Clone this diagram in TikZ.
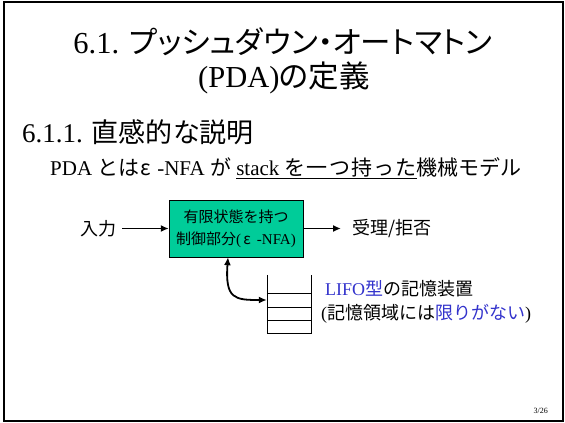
\documentclass[tikz,border=0pt]{standalone}
\usepackage{fontspec}
\setmainfont{Liberation Serif}
\newfontfamily\jp{Noto Sans CJK JP}[RawFeature=+palt]
\newfontfamily\jpw{Noto Sans CJK JP}
\newfontfamily\jpl{Noto Sans CJK JP}[LetterSpace=6]
\usepackage{xcolor}
\usetikzlibrary{arrows.meta}
\definecolor{boxgreen}{RGB}{0,204,153}
\definecolor{lifoblue}{RGB}{51,51,204}

\begin{document}
\begin{tikzpicture}[x = 1pt, y = -1pt,
    txt/.style = {inner sep = 0pt},
    flow/.style = {-{Latex[length = 8pt, width = 7pt]}, line width = 1.8pt}]
    \useasboundingbox (0, 0) rectangle (565, 423);
    \draw [line width = 2pt] (4, 2) rectangle (563, 421);
    % title
    \node (title1) [txt, anchor = base] at (283, 53) {\fontsize{30.5}{31}\selectfont 6.1. {\jp プッシュダウン・オートマトン}};
    \node (title2) [txt, anchor = base] at (284, 87) {\fontsize{30.5}{31}\selectfont (PDA){\jp の定義}};
    \node (sub) [txt, anchor = base west] at (22, 142) {\fontsize{27}{27}\selectfont 6.1.1. {\jp 直感的な説明}};
    \node (lead) [txt, anchor = base west] at (50, 175) {\fontsize{21}{21}\selectfont PDA {\jpw とは}\makebox[0.6em]{\jpw ε} -NFA {\jpw が} \underline{stack {\jpl を一つ持った}}{\jpw 機械モデル}};
    % control part
    \node (ctrl) [draw, fill = boxgreen, minimum width = 134pt, minimum height = 57pt, align = center,
        font = \fontsize{15}{22}\selectfont] at (236, 228.5) {{\jpw 有限状態を持つ}\\{\jpw 制御部分}(\makebox[0.8em]{\jpw ε} -NFA)};
    \node (in) [txt, anchor = east, inner xsep = 5pt] at (122, 228.5) {\fontsize{18}{18}\selectfont\jpw 入力};
    \node (out) [txt, anchor = west, inner xsep = 11pt] at (341, 228.5) {\fontsize{18}{18}\selectfont\jpw 受理/拒否};
    \draw [flow] (in.east) -- (in.east -| ctrl.west);
    \draw [flow] (ctrl.east) -- (ctrl.east -| out.west);
    % stack
    \node (stack) [inner sep = 0pt, minimum width = 44pt, minimum height = 58pt] at (289, 304) {};
    \draw (stack.north west) -- (stack.south west) -- (stack.south east) -- (stack.north east);
    \foreach \y in {293, 307, 320}
        \draw (stack.west |- 0, \y) -- (stack.east |- 0, \y);
    \coordinate (push) at (stack.west |- 0, 300);
    \draw [flow, {Latex[length = 8pt, width = 7pt]}-{Latex[length = 8pt, width = 7pt]}]
        ([xshift = -8pt]ctrl.south) .. controls +(-3, 42) and +(-32, 0) .. (push);
    \node (lifo) [txt, anchor = base west] at (325, 295) {\fontsize{18}{18}\selectfont\textcolor{lifoblue}{LIFO{\jpw 型}}{\jpw の記憶装置}};
    \node (limit) [txt, anchor = base west] at (321, 319) {\fontsize{18}{18}\selectfont ({\jpw 記憶領域には}\textcolor{lifoblue}{\jpw 限りがない})};
    \node (page) [txt, anchor = base east] at (548, 413) {\fontsize{8}{8}\selectfont 3/26};
\end{tikzpicture}
\end{document}
